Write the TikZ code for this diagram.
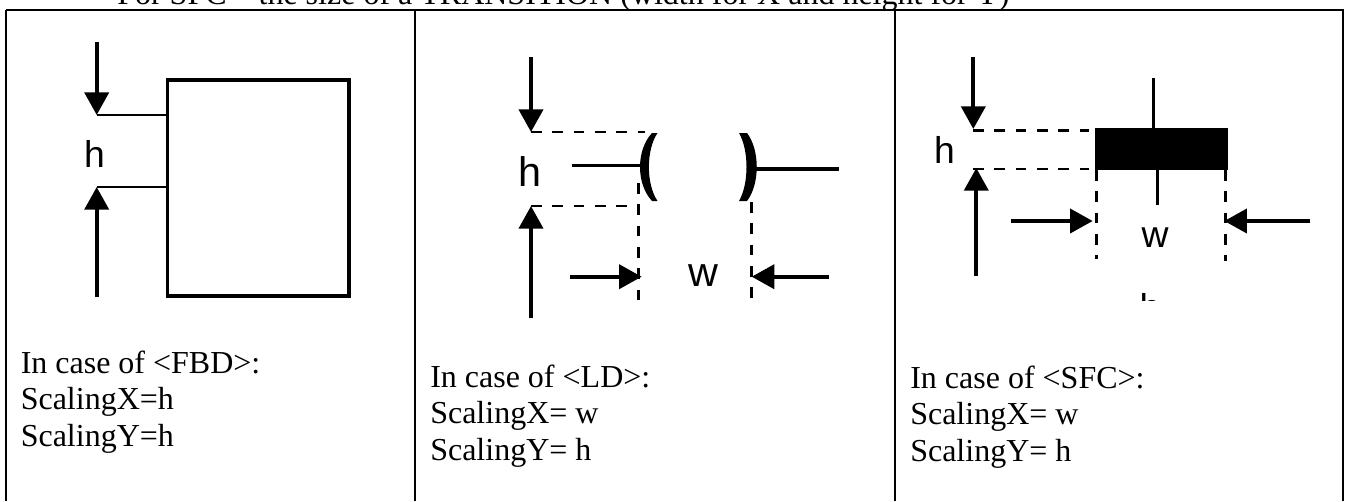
\documentclass[tikz,border=0pt]{standalone}
\usepackage{fontspec}
\setmainfont{Liberation Serif}
\setsansfont{Liberation Sans}
\usetikzlibrary{arrows.meta, positioning}
\tikzset{
    x=0.75pt, y=-0.75pt, % one unit is one pixel of the page
    >={Triangle[length=17pt, width=18pt]}, % makes the arrow heads bold
    rule/.style={line width=1.8pt}, % the lines of the table
    caption/.style={align=left, anchor=west, inner sep=0pt, font=\fontsize{24}{27.5}\selectfont}, % text below each figure
    dim/.style={font=\sffamily\fontsize{28}{28}\selectfont, inner sep=0pt}, % letters h and w
    bigdim/.style={font=\sffamily\fontsize{31}{31}\selectfont, inner sep=0pt}, % same, the LD figure is larger
    dimline/.style={line width=3pt}, % the lines with an arrow head
    guide/.style={line width=2.2pt, dash pattern=on 8pt off 8pt}, % dashed lines
    lead/.style={line width=2.3pt}, % the lines into a symbol
}

\begin{document}
\begin{tikzpicture}
    \useasboundingbox (0,0) rectangle (1346,501);
    \node[inner sep=0pt, anchor=base west, font=\fontsize{24}{27.5}\selectfont] (title) at (117,4) {For SFC -- the size of a TRANSITION (width for X and height for Y)};
    % table
    \foreach \x in {6,415,895,1343}
        \draw[rule] (\x,10) -- (\x,501);
    \draw[rule] (5.5,10) -- (1343.5,10);
    \node[caption] (fbdtext) at (20.5,402) {In case of <FBD>:\\ScalingX=h\\ScalingY=h};
    \node[caption] (ldtext) at (430,416) {In case of <LD>:\\ScalingX= w\\ScalingY= h};
    \node[caption] (sfctext) at (910,417) {In case of <SFC>:\\ScalingX= w\\ScalingY= h};

    % FBD
    \node[draw, line width=2.3pt, inner sep=0pt, minimum width=136pt, minimum height=162pt] (fbdbox) at (258.3,188) {};
    \node[dim] (fbdh) at (94.5,153.5) {h};
    \coordinate (fbdtop) at (96.7,42);
    \coordinate (fbdupper) at (96.7,115);
    \coordinate (fbdlower) at (96.7,187);
    \coordinate (fbdbottom) at (96.7,297);
    \draw[dimline, ->] (fbdtop) -- (fbdupper);
    \draw[dimline, ->] (fbdbottom) -- (fbdlower);
    \draw[lead, line width=1.9pt] (fbdupper) -- (fbdupper -| fbdbox.west);
    \draw[lead, line width=1.9pt] (fbdlower) -- (fbdlower -| fbdbox.west);

    % LD
    \node[bigdim] (ldh) at (530,172) {h};
    \node[bigdim] (ldw) at (703,276) {w};
    \coordinate (ldtop) at (531,57);
    \coordinate (ldupper) at (531,132);
    \coordinate (ldlower) at (531,206);
    \coordinate (ldbottom) at (531,318);
    \coordinate (ldleft) at (641,165.7);
    \coordinate (ldin) at (572,165.7);
    \coordinate (ldright) at (755,169);
    \coordinate (ldout) at (839,169);
    \draw[dimline, ->] (ldtop) -- (ldupper);
    \draw[dimline, ->] (ldbottom) -- (ldlower);
    \draw[guide] (ldupper) -- (645,132);
    \draw[guide] (ldlower) -- (636,206);
    \draw[lead] (ldin) -- (ldleft);
    \draw[lead] (ldright) -- (ldout);
    \fill (652,133) .. controls (636,150) and (636,184) .. (652,201) -- (657.5,201)
        .. controls (646,184) and (646,150) .. (657.5,133) -- cycle;
    \fill (747,133) .. controls (760,150) and (760,184) .. (747,201) -- (739,201)
        .. controls (749,184) and (749,150) .. (739,133) -- cycle;
    \coordinate (ldguidea) at (638.5,183);
    \coordinate (ldguideb) at (638.5,303);
    \coordinate (ldguidec) at (751.5,202);
    \coordinate (ldguided) at (751.5,298);
    \draw[guide] (ldguidea) -- (ldguideb);
    \draw[guide] (ldguidec) -- (ldguided);
    \coordinate (ldfroml) at (570,276.7);
    \coordinate (ldtol) at (641.7,276.7);
    \coordinate (ldfromr) at (829,276.7);
    \coordinate (ldtor) at (751.7,276.7);
    \draw[dimline, ->] (ldfroml) -- (ldtol);
    \draw[dimline, ->] (ldfromr) -- (ldtor);

    % SFC
    \node[fill=black, inner sep=0pt, minimum width=99.3pt, minimum height=31.3pt] (transition) at (1161.5,149.2) {};
    \node[dim] (sfch) at (944.5,150) {h};
    \node[dim] (sfcw) at (1155,238) {w};
    \begin{scope}
        \clip (1130,292) rectangle (1170,300.5);
        \node[dim] (sfccut) at (1150,307) {h};
    \end{scope}
    \coordinate (sfctop) at (973.3,57);
    \coordinate (sfcupper) at (973.3,129);
    \coordinate (sfcdash) at (1089,130.7);
    \coordinate (sfclower) at (976.3,168);
    \coordinate (sfcbottom) at (976.3,276);
    \coordinate (sfcstema) at (1153.7,78);
    \coordinate (sfcstemb) at (1157.7,205);
    \draw[dimline, ->] (sfctop) -- (sfcupper);
    \draw[dimline, ->] (sfcbottom) -- (sfclower);
    \draw[guide] (973,130.7) -- (sfcdash);
    \draw[guide] (973,169) -- (1089,169);
    \draw[lead] (sfcstema) -- (sfcstema |- transition.north);
    \draw[lead] (sfcstemb) -- (sfcstemb |- transition.south);
    \coordinate (sfcguidea) at (1096.7,170);
    \coordinate (sfcguideb) at (1096.7,259);
    \coordinate (sfcguidec) at (1225.3,170);
    \coordinate (sfcguided) at (1225.3,260.7);
    \draw[guide] (sfcguidea) -- (sfcguideb);
    \draw[guide] (sfcguidec) -- (sfcguided);
    \coordinate (sfcfroml) at (1011,221);
    \coordinate (sfctol) at (1092.7,221);
    \coordinate (sfcfromr) at (1310.3,221);
    \coordinate (sfctor) at (1224.3,221);
    \draw[dimline, ->] (sfcfroml) -- (sfctol);
    \draw[dimline, ->] (sfcfromr) -- (sfctor);
\end{tikzpicture}
\end{document}
